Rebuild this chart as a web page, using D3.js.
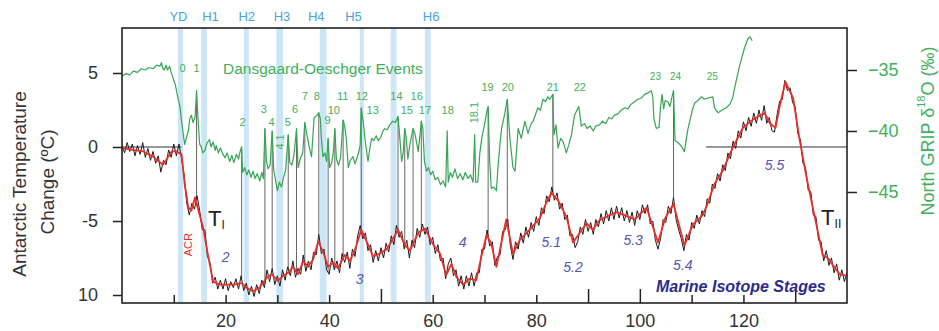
<!DOCTYPE html>
<html><head><meta charset="utf-8">
<script src="https://cdn.jsdelivr.net/npm/d3@7"></script>
<style>
body{margin:0;background:#fff;}
svg{display:block;font-family:"Liberation Sans",Arial,Helvetica,sans-serif;}
</style>
</head><body>
<svg id="c" width="939" height="331"></svg>
<script>
// ---------------- DATA ----------------
// North GRIP d18O (‰) : [age kyr, value]
const greenSeries = [[0,-35.5],[0.8,-35.3],[1.5,-35.4],[2.2,-35.1],[3.0,-35.2],[3.7,-34.9],[4.5,-35.0],[5.2,-34.8],[6.0,-34.9],[6.7,-34.6],[7.3,-34.7],[7.6,-34.4],[7.9,-34.9],[8.2,-35.0],[8.5,-34.6],[8.8,-35.0],[9.2,-34.7],[9.5,-35.2],[9.9,-35.7],[10.3,-36.2],[10.8,-37.3],[11.2,-38.0],[11.5,-39.2],[11.8,-40.2],[12.1,-41.1],[12.4,-40.6],[12.8,-40.0],[13.1,-39.0],[13.4,-38.7],[13.7,-39.3],[14.1,-38.9],[14.4,-36.7],[14.7,-39.2],[15.0,-41.1],[15.3,-41.3],[15.6,-41.8],[16.0,-41.6],[16.4,-41.0],[16.9,-40.7],[17.2,-41.3],[17.6,-40.9],[18.0,-41.6],[18.2,-41.2],[18.6,-41.8],[19.0,-41.4],[19.5,-41.9],[19.9,-42.2],[20.3,-41.8],[20.8,-42.5],[21.2,-42.0],[21.6,-42.6],[22.1,-41.9],[22.5,-42.3],[22.8,-41.7],[23.1,-41.3],[23.3,-43.4],[23.7,-43.0],[24.1,-43.6],[24.5,-43.2],[24.9,-43.8],[25.3,-43.3],[25.7,-43.9],[26.1,-43.5],[26.6,-44.1],[27.0,-43.4],[27.3,-43.9],[27.6,-39.8],[27.9,-42.5],[28.2,-43.1],[28.6,-42.8],[29.0,-40.0],[29.3,-43.2],[29.6,-43.9],[30.0,-44.9],[30.4,-44.2],[30.8,-44.6],[31.2,-43.8],[31.6,-43.2],[32.1,-40.3],[32.4,-42.6],[32.8,-42.8],[33.2,-42.0],[33.7,-39.8],[34.0,-43.0],[34.4,-42.3],[34.9,-41.8],[35.3,-39.3],[35.7,-40.3],[36.1,-41.2],[36.6,-42.1],[37.1,-38.9],[37.5,-38.8],[38.0,-38.5],[38.3,-39.0],[38.5,-40.6],[38.8,-42.1],[39.2,-41.8],[39.5,-42.5],[39.8,-40.6],[40.1,-43.0],[40.5,-42.6],[40.8,-41.8],[41.1,-39.8],[41.4,-42.3],[41.8,-42.8],[42.2,-42.2],[42.7,-39.1],[43.0,-39.6],[43.3,-40.6],[43.7,-43.0],[44.1,-42.4],[44.6,-42.1],[45.0,-42.7],[45.4,-42.2],[45.8,-41.6],[46.0,-41.1],[46.2,-38.1],[46.6,-39.3],[46.9,-40.6],[47.5,-42.5],[47.8,-41.6],[48.2,-40.6],[48.6,-40.8],[49.1,-40.4],[49.5,-40.8],[50.0,-40.5],[50.3,-40.1],[50.7,-39.8],[51.2,-39.9],[51.7,-39.5],[52.3,-39.2],[52.8,-39.3],[53.3,-38.8],[53.6,-40.3],[54.0,-42.5],[54.3,-41.8],[54.6,-39.8],[54.9,-40.6],[55.2,-42.3],[55.6,-41.1],[56.2,-39.8],[56.6,-40.3],[57.0,-41.2],[57.2,-41.7],[57.5,-40.5],[57.8,-39.2],[58.1,-39.8],[58.4,-42.5],[58.8,-43.3],[59.2,-43.0],[59.6,-43.6],[60.0,-43.3],[60.5,-44.0],[61.0,-43.8],[61.5,-44.4],[62.0,-44.1],[62.5,-44.6],[62.8,-40.0],[63.0,-44.2],[63.4,-43.4],[63.8,-43.8],[64.3,-43.1],[64.8,-43.9],[65.3,-43.5],[65.8,-44.0],[66.3,-43.4],[66.8,-43.9],[67.3,-43.6],[67.8,-44.2],[68.1,-40.3],[68.3,-44.2],[68.7,-44.2],[69.1,-41.8],[69.5,-40.5],[70.0,-39.5],[70.4,-38.5],[70.7,-38.0],[71.0,-42.5],[71.3,-44.7],[71.8,-44.6],[72.3,-44.9],[72.6,-43.0],[73.0,-41.0],[73.3,-39.8],[73.9,-38.6],[74.4,-37.4],[74.9,-40.6],[75.5,-43.0],[75.9,-43.3],[76.5,-39.8],[77.1,-40.6],[77.8,-39.2],[78.4,-40.2],[79.0,-39.4],[79.4,-39.2],[80.3,-38.1],[80.8,-38.3],[81.3,-37.4],[81.8,-37.6],[82.2,-37.2],[82.6,-37.4],[83.2,-37.0],[83.4,-40.3],[83.8,-39.5],[84.2,-41.4],[84.7,-40.6],[85.2,-40.9],[85.8,-41.8],[86.3,-41.1],[86.8,-40.3],[87.4,-38.7],[88.2,-38.0],[88.7,-39.6],[89.3,-39.4],[89.8,-39.8],[90.4,-39.6],[91.0,-40.0],[91.5,-39.6],[92.2,-39.5],[92.8,-39.2],[93.4,-39.4],[94.0,-38.9],[94.6,-39.0],[95.1,-38.7],[95.8,-38.6],[96.4,-38.3],[97.1,-38.1],[97.7,-38.2],[98.3,-37.8],[99.0,-37.6],[99.6,-37.4],[100.3,-37.3],[100.9,-37.0],[101.5,-36.9],[102.2,-36.7],[102.5,-37.2],[102.7,-38.9],[103.0,-39.5],[103.2,-39.8],[103.7,-39.7],[104.0,-38.0],[104.3,-37.0],[104.6,-38.2],[104.9,-37.5],[105.4,-37.6],[105.8,-38.0],[106.2,-37.2],[106.5,-36.7],[106.8,-40.8],[107.2,-40.9],[107.7,-41.1],[108.1,-41.3],[108.6,-41.7],[109.0,-40.6],[109.3,-39.8],[109.8,-38.9],[110.2,-38.2],[110.6,-37.7],[111.2,-37.5],[111.9,-37.2],[112.5,-37.4],[113.2,-37.3],[114.1,-37.2],[114.4,-38.1],[115.1,-38.5],[115.8,-38.3],[116.7,-38.1],[117.4,-37.8],[117.9,-37.3],[118.6,-35.9],[119.3,-34.6],[120.2,-33.2],[120.9,-32.4],[121.3,-32.3],[121.7,-32.6]];

// Antarctic temperature change, smoothed (red): [age kyr, °C]
const redSeries = [[0,-0.07],[2.1,-0.2],[4.1,-0.3],[6.0,-0.65],[7.9,-1.2],[9.6,-0.3],[10.5,-0.3],[11.5,-0.5],[12.1,-2.5],[12.8,-4.1],[13.4,-4.3],[14.1,-3.4],[14.7,-4.2],[15.7,-5.5],[16.6,-7.3],[17.6,-9.1],[18.9,-9.3],[21.5,-9.3],[23.1,-9.2],[24.0,-9.5],[25.3,-9.75],[26.6,-9.5],[27.9,-8.85],[28.9,-8.6],[30.1,-9.05],[31.1,-8.7],[32.1,-8.5],[33.0,-8.1],[34.0,-8.6],[35.0,-7.7],[35.9,-8.1],[36.9,-7.6],[37.9,-6.4],[38.8,-7.05],[39.8,-8.1],[40.8,-7.8],[41.7,-8.2],[43.0,-7.3],[44.0,-7.7],[44.9,-7.05],[46.2,-5.6],[47.5,-6.6],[48.5,-7.4],[49.8,-7.2],[51.1,-6.9],[52.0,-6.4],[53.3,-5.6],[54.6,-6.6],[55.6,-7.0],[57.2,-5.8],[58.5,-5.5],[60.1,-6.6],[61.4,-7.2],[62.6,-8.65],[63.6,-7.9],[64.6,-8.8],[65.9,-9.3],[67.1,-8.9],[68.4,-9.0],[69.4,-7.4],[70.4,-5.95],[71.3,-6.5],[72.3,-8.1],[73.3,-6.4],[74.2,-4.9],[75.5,-7.2],[76.8,-6.3],[78.7,-5.6],[80.7,-4.8],[81.9,-3.8],[82.9,-3.1],[84.2,-3.6],[85.8,-4.7],[87.1,-6.45],[88.4,-5.8],[89.7,-5.15],[90.9,-5.6],[92.2,-4.95],[94.2,-4.6],[95.5,-4.4],[97.7,-4.7],[99.0,-4.9],[101.3,-4.1],[103.5,-6.45],[104.9,-4.8],[106.5,-3.85],[108.6,-6.65],[110.3,-5.2],[111.9,-4.7],[112.8,-4.1],[114.4,-2.5],[116.0,-1.6],[117.9,-0.07],[119.9,1.3],[121.8,1.85],[124.1,2.3],[125.1,1.6],[126.2,1.3],[127.0,2.75],[128.1,4.4],[129.6,3.3],[130.8,0.6],[132.1,-1.9],[133.7,-4.6],[135.3,-7.3],[136.3,-7.5],[137.3,-8.0],[138.6,-8.6],[140,-8.7]];

// Antarctic temperature change, raw (black), one value every 0.5 kyr from 0 to 140 kyr
const blackStep = 0.5;
const blackTemp = [
 0.1,-0.4,0.3,-0.3,0.2,-0.6,0.1,-0.5,0.3,-0.7,
 -0.1,-0.9,-0.3,-1.1,-0.6,-1.7,-0.9,-1.2,-0.2,-0.7,
 0.2,-0.6,0.2,-0.8,-1.9,-3.8,-4.6,-3.8,-4.2,-3.3,
 -4.3,-5.6,-5.6,-7.4,-7.8,-9.2,-8.8,-9.6,-9.0,-9.6,
 -8.9,-9.7,-9.1,-9.5,-8.9,-9.6,-8.7,-9.7,-9.2,-10.0,
 -9.4,-10.1,-9.3,-9.9,-9.0,-9.5,-8.3,-9.1,-8.2,-9.3,
 -8.7,-9.4,-8.3,-9.0,-8.1,-8.7,-7.7,-8.8,-8.2,-8.6,
 -7.3,-8.4,-7.7,-8.3,-7.1,-7.3,-5.9,-7.2,-6.9,-8.3,
 -8.6,-7.5,-8.3,-7.7,-8.5,-7.2,-7.8,-7.1,-8.2,-6.9,
 -7.4,-6.0,-5.3,-6.2,-5.8,-7.0,-6.6,-7.8,-7.0,-7.7,
 -6.8,-7.5,-6.5,-7.1,-6.0,-6.6,-5.3,-6.1,-5.7,-6.9,
 -6.3,-7.5,-6.3,-6.8,-5.5,-6.1,-5.2,-5.9,-5.4,-6.6,
 -6.1,-7.2,-6.6,-7.7,-7.5,-8.9,-7.9,-7.5,-8.7,-8.3,
 -9.4,-8.7,-9.6,-8.7,-9.4,-8.5,-9.4,-8.5,-8.5,-6.9,
 -6.9,-5.6,-6.7,-6.4,-8.0,-7.4,-7.3,-5.7,-5.6,-4.9,
 -6.7,-7.6,-6.4,-6.9,-5.8,-6.5,-5.4,-6.1,-5.1,-5.7,
 -4.7,-5.3,-4.1,-4.5,-3.3,-3.7,-2.7,-3.6,-3.1,-4.2,
 -3.8,-4.9,-4.6,-6.0,-5.9,-6.8,-6.4,-5.4,-5.9,-4.9,
 -5.7,-5.1,-5.9,-4.9,-5.4,-4.5,-5.2,-4.3,-5.0,-4.1,
 -4.9,-4.0,-4.8,-4.1,-5.0,-4.3,-5.1,-4.4,-5.3,-4.3,
 -4.9,-3.9,-4.5,-3.9,-5.2,-5.0,-6.3,-6.9,-6.2,-4.9,
 -5.1,-4.0,-4.5,-3.4,-4.9,-5.6,-6.2,-7.0,-5.9,-6.3,
 -5.1,-5.5,-4.6,-5.2,-4.3,-4.7,-3.5,-3.8,-2.5,-2.8,
 -1.8,-2.3,-1.2,-1.6,-0.4,-0.8,0.4,-0.1,1.1,0.6,
 1.7,1.1,2.0,1.4,2.3,1.6,2.5,1.8,2.8,1.6,
 2.0,1.1,1.0,2.2,3.1,3.2,4.5,3.8,4.0,3.0,
 2.7,0.9,0.5,-1.1,-1.4,-2.9,-3.0,-4.6,-4.7,-6.3,
 -6.4,-7.7,-7.0,-8.0,-7.5,-8.5,-7.9,-9.0,-8.3,-9.1,
 -8.5];

// Heinrich / YD bands (kyr)
const bandStart = [10.8,15.3,23.5,29.8,38.2,45.9,51.9,58.5];
const bandEnd   = [11.8,16.4,24.5,31.1,39.5,46.7,53.0,59.6];
const bandLabels = ["YD","H1","H2","H3","H4","H5","H6"];
const bandLabelAge = [10.9,17.1,24.1,30.9,37.5,44.7,59.7];

// Dansgaard-Oeschger event ages (vertical connectors)
const doAges = [14.4,23.1,27.6,29.0,32.1,33.7,35.3,38.0,39.8,41.1,42.7,46.2,53.3,54.6,56.2,57.8,70.7,74.4,83.2,106.5];
// DO labels: text, age, d18O level
const doLabels = ["0","1","2","3","4","4.1","5","6","7","8","9","10","11","12","13","14","15","16","17","18","18.1","19","20","21","22","23","24","25"];
const doLabelAge = [11.7,14.4,23.3,27.4,28.9,30.5,32.0,33.4,35.3,37.6,39.7,40.9,42.6,46.3,48.4,53.0,55.0,56.9,58.5,62.9,67.9,70.6,74.5,83.2,88.4,103.0,106.9,114.0];
const doLabelLevel = [-34.84,-34.84,-39.26,-38.2,-39.26,-40.9,-39.26,-38.2,-37.1,-37.1,-39.1,-38.3,-37.1,-37.1,-38.3,-37.1,-38.3,-37.1,-38.3,-38.3,-38.5,-36.4,-36.4,-36.4,-36.4,-35.5,-35.5,-35.5];

// Marine isotope stage labels: text, age, temperature level
const misLabels = ["2","3","4","5.1","5.2","5.3","5.4","5.5"];
const misAge = [20.0,45.9,65.8,82.9,87.1,98.7,108.3,126.0];
const misLevel = [-7.4,-8.9,-6.4,-6.4,-8.1,-6.3,-8.0,-1.2];

// Reference (zero) line segments (kyr)
const zeroSegStart = [0,112.8];
const zeroSegEnd = [11.5,140];

// Axis ticks
const leftTicks = [5,0,-5,-10];
const leftTickLabels = ["5","0","-5","10"];
const rightTicks = [-35,-40,-45];
const rightTickLabels = ["\u221235","\u221240","\u221245"];
const bottomTicks = [10,20,30,40,50,60,70,80,90,100,110,120,130];
const bottomTickLabels = ["","20","","40","","60","","80","","100","","120",""];
const longTicks = [50,90,100,130];

// ---------------- CHART ----------------
const L=122,R=847,T=28,B=303;
const svg = d3.select("#c");
const x = d3.scaleLinear().domain([0,140]).range([L,R]);
const yT = d3.scaleLinear().domain([-10.54,8.04]).range([B,T]);
const yG = d3.scaleLinear().domain([-54.1,-31.56]).range([B,T]);

const GREEN="#35a551", GREEN_TXT="#3fb05a", RED="#ec2d27", BLUE_BAND="#cde6f7", BLUE_TXT="#4aa3dd", MIS="#5454b4";

svg.append("defs").append("clipPath").attr("id","clip")
  .append("rect").attr("x",L).attr("y",T).attr("width",R-L).attr("height",B-T);

const plot = svg.append("g").attr("clip-path","url(#clip)");

// bands
plot.selectAll("rect.band").data(bandStart).enter().append("rect")
  .attr("class","band")
  .attr("x",(d)=>x(d)).attr("width",(d,i)=>x(bandEnd[i])-x(d))
  .attr("y",T).attr("height",B-T).attr("fill",BLUE_BAND);

// zero line
plot.selectAll("line.zero").data(zeroSegStart).enter().append("line")
  .attr("x1",d=>x(d)).attr("x2",(d,i)=>x(zeroSegEnd[i]))
  .attr("y1",yT(0)).attr("y2",yT(0))
  .attr("stroke","#777").attr("stroke-width",1.3);

// black raw series
const blackSeries = blackTemp.map((v,i)=>[i*blackStep, v]);

function interp(series, t){
  const bis = d3.bisector(d=>d[0]).left;
  let i = bis(series, t);
  if (i<=0) return series[0][1];
  if (i>=series.length) return series[series.length-1][1];
  const a=series[i-1], b=series[i];
  if (b[0]===a[0]) return b[1];
  return a[1] + (b[1]-a[1])*(t-a[0])/(b[0]-a[0]);
}

// DO connector lines
plot.selectAll("line.do").data(doAges).enter().append("line")
  .attr("x1",d=>x(d)).attr("x2",d=>x(d))
  .attr("y1",d=>yG(interp(greenSeries,d)))
  .attr("y2",d=>yT(interp(blackSeries,d)))
  .attr("stroke","#666").attr("stroke-width",1);

const lineT = d3.line().x(d=>x(d[0])).y(d=>yT(d[1]));
const lineG = d3.line().x(d=>x(d[0])).y(d=>yG(d[1]));

plot.append("path").datum(blackSeries).attr("d",lineT)
  .attr("fill","none").attr("stroke","#1a1a1a").attr("stroke-width",1);
plot.append("path").datum(redSeries).attr("d",lineT)
  .attr("fill","none").attr("stroke",RED).attr("stroke-width",1.8).attr("stroke-linejoin","round");
plot.append("path").datum(greenSeries).attr("d",lineG)
  .attr("fill","none").attr("stroke",GREEN).attr("stroke-width",1.2).attr("stroke-linejoin","round");

// frame
svg.append("rect").attr("x",L).attr("y",T).attr("width",R-L).attr("height",B-T)
  .attr("fill","none").attr("stroke","#222").attr("stroke-width",1.6);

// axes
const axL = svg.append("g").attr("transform",`translate(${L},0)`)
  .call(d3.axisLeft(yT).tickValues(leftTicks).tickFormat((d,i)=>leftTickLabels[i]).tickSize(9).tickPadding(15));
const axR = svg.append("g").attr("transform",`translate(${R},0)`)
  .call(d3.axisRight(yG).tickValues(rightTicks).tickFormat((d,i)=>rightTickLabels[i]).tickSize(10).tickPadding(11));
const axB = svg.append("g").attr("transform",`translate(0,${B})`)
  .call(d3.axisBottom(x).tickValues(bottomTicks).tickFormat((d,i)=>bottomTickLabels[i]).tickSize(-8).tickPadding(11));
axB.selectAll(".tick line").attr("y2",d=>longTicks.includes(d)?-14:-8);
[axL,axR,axB].forEach(a=>{
  a.select(".domain").remove();
  a.selectAll(".tick line").attr("stroke","#222").attr("stroke-width",1.5);
  a.selectAll("text").attr("font-size",18).attr("font-family","'Liberation Sans',Arial,sans-serif");
});
axL.selectAll("text").attr("fill","#333");
axB.selectAll("text").attr("fill","#333");
axR.selectAll("text").attr("fill",GREEN_TXT);

// axis titles
svg.append("text").attr("transform","translate(19,184) rotate(-90)")
  .attr("text-anchor","middle").attr("dominant-baseline","central")
  .attr("font-size",19).attr("fill","#333").text("Antarctic Temperature");
svg.append("text").attr("transform","translate(47,182) rotate(-90)")
  .attr("text-anchor","middle").attr("dominant-baseline","central")
  .attr("font-size",19).attr("fill","#333").text("Change (ºC)");
const rt = svg.append("text").attr("transform","translate(928,131) rotate(-90)")
  .attr("text-anchor","middle").attr("dominant-baseline","central")
  .attr("font-size",18).attr("fill",GREEN_TXT);
rt.append("tspan").text("North GRIP δ");
rt.append("tspan").attr("font-size",11).attr("dy",-7).text("18");
rt.append("tspan").attr("dy",7).text("O (‰)");

// band labels
svg.selectAll("text.bl").data(bandLabels).enter().append("text")
  .attr("x",(d,i)=>x(bandLabelAge[i])).attr("y",21)
  .attr("text-anchor","middle").attr("font-size",13).attr("fill",BLUE_TXT).text(d=>d);

// DO labels
svg.selectAll("text.dol").data(doLabels).enter().append("text")
  .attr("transform",(d,i)=>`translate(${x(doLabelAge[i])},${yG(doLabelLevel[i])})` + ((d==="4.1"||d==="18.1")?" rotate(-90)":""))
  .attr("text-anchor","middle").attr("dominant-baseline","central")
  .attr("font-size",(d,i)=>i>=25?10:11).attr("fill",GREEN_TXT).text(d=>d);

svg.append("text").attr("x",x(19.5)).attr("y",yG(-34.84))
  .attr("dominant-baseline","central").attr("font-size",15.5).attr("fill",GREEN_TXT)
  .text("Dansgaard-Oeschger Events");

// MIS labels
svg.selectAll("text.mis").data(misLabels).enter().append("text")
  .attr("x",(d,i)=>x(misAge[i])).attr("y",(d,i)=>yT(misLevel[i]))
  .attr("text-anchor","middle").attr("dominant-baseline","central")
  .attr("font-size",14).attr("font-style","italic").attr("fill",MIS).text(d=>d);
svg.append("text").attr("x",x(119.5)).attr("y",yT(-9.44))
  .attr("text-anchor","middle").attr("dominant-baseline","central")
  .attr("font-size",16).attr("font-style","italic").attr("font-weight","bold").attr("fill","#2b2b8c")
  .text("Marine Isotope Stages");

// Terminations
const t1 = svg.append("text").attr("x",x(16.6)).attr("y",yT(-5.34)).attr("font-size",22).attr("fill","#222");
t1.append("tspan").text("T");
t1.append("tspan").attr("font-size",12).attr("dy",3).text("I");
const t2 = svg.append("text").attr("x",x(135.0)).attr("y",yT(-5.27)).attr("font-size",22).attr("fill","#222");
t2.append("tspan").text("T");
t2.append("tspan").attr("font-size",12).attr("dy",3).text("II");

// ACR
svg.append("text").attr("transform",`translate(${x(12.8)},${yT(-6.6)}) rotate(-90)`)
  .attr("text-anchor","middle").attr("dominant-baseline","central")
  .attr("font-size",11).attr("fill",RED).text("ACR");
</script>
</body></html>
